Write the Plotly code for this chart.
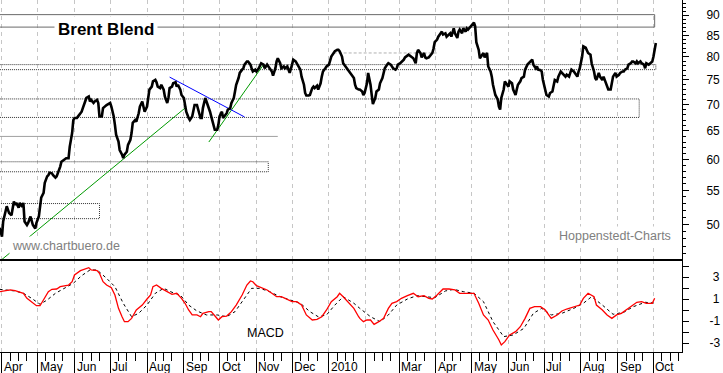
import plotly.graph_objects as go
import pandas as pd

START = pd.Timestamp("2009-04-01")

# ---------------- data (day offsets from 2009-04-01) ----------------
price_days = [
    -2, 0, 1, 3, 4, 6, 8, 10, 11, 12, 14, 15, 17, 18, 19, 21, 22, 24, 25, 26,
    28, 29, 31, 32, 33, 35, 36, 38, 39, 40, 42, 43, 45, 46, 47, 49, 50, 52, 53, 54,
    56, 57, 59, 60, 61, 63, 64, 66, 67, 68, 70, 71, 73, 74, 75, 77, 78, 80, 81, 82,
    84, 85, 88, 91, 92, 94, 95, 96, 98, 99, 101, 102, 103, 105, 106, 108, 109, 110, 112, 113,
    115, 116, 118, 119, 120, 122, 123, 124, 126, 127, 129, 130, 131, 133, 134, 136, 137, 139, 140, 141,
    143, 144, 146, 147, 148, 150, 151, 153, 154, 155, 157, 158, 160, 161, 162, 164, 165, 167, 168, 169,
    171, 172, 174, 175, 176, 178, 179, 181, 182, 183, 185, 186, 188, 189, 190, 192, 193, 195, 196, 197,
    199, 200, 202, 203, 204, 206, 207, 209, 210, 211, 213, 214, 216, 217, 218, 220, 221, 223, 224, 225,
    227, 228, 230, 231, 232, 234, 235, 237, 238, 240, 241, 242, 244, 245, 247, 248, 249, 251, 252, 254,
    255, 256, 258, 259, 261, 262, 263, 265, 266, 268, 269, 270, 272, 273, 275, 276, 277, 279, 280, 282,
    283, 284, 286, 287, 289, 290, 291, 293, 294, 296, 297, 298, 300, 301, 303, 304, 305, 307, 308, 310,
    311, 312, 314, 315, 317, 318, 320, 321, 322, 324, 325, 327, 328, 329, 331, 332, 333, 335, 338, 339,
    342, 345, 346, 348, 349, 350, 352, 353, 355, 356, 357, 359, 362, 363, 364, 366, 367, 369, 370, 371,
    373, 374, 376, 377, 378, 380, 381, 383, 384, 385, 387, 388, 390, 391, 392, 394, 395, 397, 398, 399,
    401, 402, 404, 405, 406, 408, 409, 411, 412, 413, 415, 416, 417, 418, 419, 420, 422, 423, 425, 426,
    427, 429, 430, 432, 433, 434, 436, 437, 439, 440, 442, 443, 444, 446, 447, 449, 450, 451, 453, 454,
    455, 457, 458, 460, 461, 463, 464, 465, 467, 468, 470, 471, 472, 474, 475, 477, 478, 479, 481, 482,
    484, 485, 486, 488, 489, 491, 492, 493, 495, 496, 498, 499, 500, 502, 503, 505, 506, 507, 509, 510,
    512, 513, 514, 516, 517, 519, 520, 522, 523, 524, 526, 527, 529, 530, 531, 533, 534, 535, 537, 538,
    540, 541, 542, 544, 545, 547, 548, 549, 550,
]
price_vals = [
    49.5, 48.3, 50.4, 52.1, 52.6, 51.6, 51.3, 53.3, 52.8, 53.1, 52.4, 53.1, 52.5, 53.1, 50.4, 49.9, 50.2, 51.1, 50.4, 49.9,
    49.4, 50.2, 51.1, 52.6, 53.9, 54.6, 56.2, 57.2, 57.4, 57.8, 57.7, 57.4, 57.0, 57.2, 57.7, 58.8, 59.6, 59.9, 59.9, 60.2,
    60.2, 62.2, 64.6, 67.0, 67.4, 67.4, 67.7, 68.3, 68.6, 69.3, 70.6, 71.3, 71.6, 70.6, 70.9, 70.3, 70.6, 70.9, 70.3, 67.7,
    67.7, 69.3, 69.9, 70.3, 69.6, 67.7, 66.1, 64.3, 63.1, 61.6, 60.8, 60.2, 60.8, 61.3, 62.5, 63.4, 64.6, 66.5, 67.0, 66.7,
    68.3, 69.6, 70.6, 69.6, 68.6, 69.6, 71.3, 73.0, 73.6, 74.7, 75.0, 74.5, 73.6, 73.3, 74.0, 73.0, 71.6, 70.3, 71.3, 73.3,
    73.6, 74.3, 74.5, 73.6, 74.0, 73.0, 71.9, 71.3, 69.9, 68.6, 67.4, 67.0, 67.7, 69.0, 69.9, 69.9, 69.0, 67.4, 67.4, 69.3,
    71.3, 70.6, 69.6, 68.6, 67.7, 66.1, 65.2, 65.2, 66.1, 67.7, 68.6, 67.4, 68.0, 68.3, 69.0, 69.3, 70.3, 71.3, 72.6, 74.0,
    75.4, 76.5, 77.2, 77.5, 78.3, 79.0, 79.0, 78.3, 77.5, 76.8, 77.2, 76.8, 77.5, 77.9, 78.6, 78.3, 77.5, 78.3, 77.9, 77.5,
    76.8, 75.9, 77.5, 79.0, 79.7, 78.6, 77.5, 77.9, 77.5, 77.9, 77.2, 76.5, 78.3, 79.4, 79.0, 78.6, 77.9, 77.2, 75.7, 74.0,
    72.3, 71.8, 71.8, 71.9, 73.3, 73.6, 73.3, 73.8, 73.0, 74.3, 75.7, 76.8, 77.5, 77.9, 78.3, 79.0, 80.1, 80.9, 81.3, 81.6,
    81.6, 81.3, 80.1, 78.6, 77.9, 77.5, 77.2, 76.5, 76.1, 75.4, 74.0, 73.3, 73.0, 73.0, 72.6, 71.9, 72.3, 74.3, 76.5, 74.0,
    71.9, 70.1, 71.3, 72.6, 73.0, 74.3, 75.4, 76.5, 77.5, 78.3, 78.6, 78.3, 77.9, 77.5, 77.2, 77.5, 78.3, 78.6, 79.4, 79.9,
    80.5, 79.9, 79.7, 78.6, 80.9, 81.6, 80.9, 79.9, 80.9, 79.9, 79.7, 79.9, 80.9, 81.9, 83.4, 84.0, 84.7, 85.5, 85.9, 85.2,
    85.5, 84.7, 85.2, 85.5, 84.7, 86.7, 85.5, 84.4, 85.9, 86.4, 85.5, 86.7, 85.9, 86.7, 86.4, 87.2, 87.6, 88.1, 87.2, 83.4,
    81.6, 79.7, 80.5, 80.9, 79.9, 80.9, 77.9, 76.8, 75.7, 74.0, 71.9, 71.3, 71.0, 69.6, 69.0, 71.3, 73.0, 74.7, 74.0, 73.6,
    74.7, 74.3, 73.0, 71.9, 73.0, 74.0, 74.7, 75.4, 75.7, 77.2, 78.3, 78.6, 79.0, 79.4, 78.3, 77.5, 77.9, 77.2, 77.1, 76.8,
    75.0, 73.0, 71.9, 71.6, 72.3, 72.6, 74.0, 75.0, 74.7, 75.7, 76.8, 76.5, 76.1, 75.7, 76.1, 75.7, 76.5, 77.2, 76.8, 76.5,
    75.7, 76.8, 77.5, 80.1, 82.4, 82.1, 81.3, 80.9, 80.5, 78.6, 76.8, 75.4, 75.0, 76.5, 75.7, 75.0, 75.7, 75.0, 74.0, 73.0,
    73.0, 74.7, 75.7, 76.5, 75.7, 76.1, 76.5, 76.8, 76.8, 77.2, 77.5, 78.3, 78.6, 79.0, 79.0, 78.6, 79.0, 78.6, 79.0, 78.6,
    78.3, 77.5, 78.6, 78.3, 78.6, 79.0, 80.1, 81.9, 83.2,
]

macd_days = [
    -2, 3, 7, 11, 15, 18, 21, 25, 29, 32, 35, 39, 42, 46, 49, 53, 56, 59, 61, 66,
    70, 73, 75, 80, 82, 85, 88, 92, 95, 98, 101, 103, 106, 109, 113, 118, 122, 125, 127, 130,
    134, 139, 143, 147, 151, 154, 157, 160, 164, 167, 169, 174, 176, 179, 182, 185, 189, 193, 197, 202,
    206, 209, 211, 214, 219, 223, 227, 231, 235, 240, 244, 248, 252, 256, 261, 265, 269, 273, 277, 282,
    284, 287, 291, 296, 300, 301, 304, 307, 310, 313, 317, 321, 325, 328, 332, 336, 341, 346, 350, 355,
    359, 362, 366, 371, 376, 381, 385, 391, 397, 401, 405, 409, 413, 418, 420, 423, 427, 432, 436, 440,
    444, 448, 453, 457, 460, 462, 467, 471, 475, 481, 486, 489, 493, 498, 500, 505, 509, 513, 517, 521,
    526, 530, 534, 538, 542, 547, 549,
]
macd_vals = [
    1.66, 1.73, 1.82, 1.76, 1.66, 1.52, 1.06, 0.76, 0.39, 0.39, 0.91, 1.67, 1.88, 1.91, 2.12, 2.21, 2.27, 2.57, 3.18, 3.58,
    3.73, 3.85, 3.64, 3.58, 3.33, 2.57, 2.27, 2.03, 1.36, 0.15, -0.61, -1.06, -1.06, -0.76, 0.0, 0.45, 1.0, 1.36, 2.12, 2.27,
    1.97, 1.67, 1.43, 1.52, 1.06, 0.61, 0.0, -0.45, -0.45, -0.61, -0.3, -0.15, -0.15, -0.52, -0.91, -0.61, -0.55, -0.15, 0.45, 1.36,
    2.27, 2.64, 2.57, 2.21, 1.97, 1.82, 1.52, 1.21, 1.21, 1.0, 0.76, 0.76, 0.45, -0.45, -0.91, -0.85, -0.61, 0.0, 0.76, 1.21,
    1.52, 1.21, 0.76, 0.15, -0.61, -0.76, -1.06, -0.91, -0.91, -1.3, -1.06, -0.76, 0.15, 0.61, 0.76, 1.06, 1.3, 1.52, 1.21, 1.3,
    1.06, 1.0, 1.36, 1.91, 1.91, 1.82, 1.52, 1.52, 1.52, 0.61, -0.45, -0.91, -1.82, -2.73, -3.18, -2.88, -2.27, -1.97, -1.52, -0.76,
    0.15, 0.3, 0.3, 0.0, -0.45, -0.76, -0.45, -0.09, 0.09, 0.3, 0.45, 1.06, 1.52, 1.21, 0.45, 0.0, -0.45, -0.76, -0.45, -0.3,
    0.09, 0.45, 0.7, 0.76, 0.61, 0.61, 1.06,
]

signal_days = [
    -2, 4, 11, 18, 25, 32, 38, 45, 53, 60, 67, 74, 80, 88, 95, 102, 109, 115, 122, 129,
    136, 143, 150, 157, 164, 172, 181, 189, 196, 203, 210, 217, 225, 234, 242, 251, 259, 266, 273, 280,
    287, 296, 301, 310, 318, 325, 332, 341, 349, 357, 364, 373, 380, 388, 397, 405, 413, 422, 430, 439,
    447, 454, 462, 471, 481, 489, 496, 505, 514, 523, 531, 541, 548,
]
signal_vals = [
    1.88, 1.82, 1.73, 1.52, 1.06, 0.52, 0.91, 1.52, 1.97, 2.43, 3.12, 3.64, 3.64, 2.88, 2.12, 0.61, -0.61, -0.3, 0.45, 1.52,
    1.97, 1.61, 1.36, 0.45, -0.09, -0.45, -0.45, -0.61, -0.15, 0.91, 1.97, 1.97, 1.67, 1.21, 0.91, 0.61, -0.15, -0.61, -0.45, 0.45,
    1.21, 0.61, 0.15, -0.61, -1.06, -0.45, 0.45, 1.0, 1.3, 1.21, 1.12, 1.73, 1.88, 1.67, 1.52, 0.76, -1.06, -2.42, -2.27, -1.67,
    -0.3, 0.15, -0.45, -0.3, 0.15, 0.61, 1.21, 0.45, -0.39, -0.21, 0.3, 0.7, 0.64,
]

# support / resistance zones: low, high, end day
zone_low = [87.0, 77.2, 67.5, 57.95, 50.8]
zone_high = [90.1, 78.3, 71.1, 59.6, 53.0]
zone_end = [549, 550, 536, 224, 82]
zone_solid = [True, False, False, False, False]

# single horizontal levels: value, start day, end day
level_vals = [64.0, 80.9]
level_start = [-10, 279]
level_end = [232, 367]

# trend lines: (start/end day, start/end value)
green1 = ([0, 155], [45.3, 69.5])
green2 = ([174, 220], [63.0, 78.3])
blue1 = ([141, 204], [75.6, 67.6])

month_ticks = ["2009-04-01", "2009-05-01", "2009-06-01", "2009-07-01", "2009-08-01",
               "2009-09-01", "2009-10-01", "2009-11-01", "2009-12-01", "2010-01-01",
               "2010-02-01", "2010-03-01", "2010-04-01", "2010-05-01", "2010-06-01",
               "2010-07-01", "2010-08-01", "2010-09-01", "2010-10-01"]
month_labels = ["Apr", "May", "Jun", "Jul", "Aug", "Sep", "Oct", "Nov", "Dec", "2010",
                "", "Mar", "Apr", "May", "Jun", "Jul", "Aug", "Sep", "Oct"]

price_ticks = [50, 55, 60, 65, 70, 75, 80, 85, 90]
macd_tickvals = [-3, -2, -1, 0, 1, 2, 3, 4]
macd_ticktext = ["-3", "", "-1", "", "\u00a01", "", "\u00a03", ""]


def to_dates(days):
    return START + pd.to_timedelta(days, unit="D")


X_RANGE = ["2009-03-30 08:00", "2010-10-25"]
SPLIT = 92 / 352
FONT = "Liberation Sans, Arial, sans-serif"

fig = go.Figure()

# zones
for lo, hi, end, solid in zip(zone_low, zone_high, zone_end, zone_solid):
    fig.add_trace(go.Scatter(
        x=to_dates([-10, end, end, -10]), y=[lo, lo, hi, hi],
        mode="lines", hoverinfo="skip",
        line=dict(color="#6a6a6a" if solid else "#333333", width=1,
                  dash="solid" if solid else "1px,1px"),
        xaxis="x", yaxis="y"))

# levels
for val, s, e, col, dash in zip(level_vals, level_start, level_end,
                                ["#a0a0a0", "#b0b0b0"], ["solid", "3px,2px"]):
    fig.add_trace(go.Scatter(x=to_dates([s, e]), y=[val, val], mode="lines",
                             hoverinfo="skip", line=dict(color=col, width=1, dash=dash),
                             xaxis="x", yaxis="y"))

# trend lines
for (dd, vv), col in zip([green1, green2, blue1], ["#009a00", "#009a00", "#0000ff"]):
    fig.add_trace(go.Scatter(x=to_dates(dd), y=vv, mode="lines", hoverinfo="skip",
                             line=dict(color=col, width=1), xaxis="x", yaxis="y"))

# price
fig.add_trace(go.Scatter(x=to_dates(price_days), y=price_vals, mode="lines",
                         line=dict(color="black", width=2.6), xaxis="x", yaxis="y"))

# MACD
fig.add_trace(go.Scatter(x=to_dates(signal_days), y=signal_vals, mode="lines",
                         line=dict(color="black", width=1, dash="3px,3px"),
                         xaxis="x", yaxis="y2"))
fig.add_trace(go.Scatter(x=to_dates(macd_days), y=macd_vals, mode="lines",
                         line=dict(color="#ff0000", width=1.3), xaxis="x", yaxis="y2"))

# minor x ticks (8th, 15th, 22nd of each month)
minor_x = []
for m in pd.date_range("2009-03-01", "2010-10-01", freq="MS"):
    for dday in (7, 14, 21):
        minor_x.append((m + pd.Timedelta(days=dday)).strftime("%Y-%m-%d"))

minor_price = [v for v in range(46, 94) if v % 5 != 0]

annotations = []
for t, lab in zip(month_ticks, month_labels):
    if lab:
        annotations.append(dict(x=t, xref="x", y=-14.5 / 352, yref="paper", text=lab,
                                showarrow=False, xanchor="left", yanchor="middle", xshift=1,
                                borderpad=0, font=dict(family=FONT, size=12, color="black")))
annotations += [
    dict(x=54 / 682, y=(352 - 29) / 352, xref="paper", yref="paper", text="<b>Brent Blend</b>",
         showarrow=False, xanchor="left", yanchor="middle", bgcolor="white", borderpad=3,
         font=dict(family=FONT, size=17, color="black")),
    dict(x=9 / 682, y=(352 - 246) / 352, xref="paper", yref="paper", text="www.chartbuero.de",
         showarrow=False, xanchor="left", yanchor="middle", bgcolor="white", borderpad=2,
         font=dict(family=FONT, size=12.5, color="#808080")),
    dict(x=674 / 682, y=(352 - 236) / 352, xref="paper", yref="paper", text="Hoppenstedt-Charts",
         showarrow=False, xanchor="right", yanchor="middle", bgcolor="white", borderpad=2,
         font=dict(family=FONT, size=12.5, color="#808080")),
    dict(x=246 / 682, y=(352 - 333) / 352, xref="paper", yref="paper", text="MACD",
         showarrow=False, xanchor="left", yanchor="middle", borderpad=0,
         font=dict(family=FONT, size=12.5, color="black")),
]

shapes = [dict(type="line", xref="paper", yref="paper", x0=0, x1=1, y0=SPLIT, y1=SPLIT,
               line=dict(color="black", width=2))]

fig.update_layout(
    width=723, height=373,
    margin=dict(l=0, r=41, t=0, b=21),
    paper_bgcolor="white", plot_bgcolor="white",
    showlegend=False,
    annotations=annotations,
    shapes=shapes,
    xaxis=dict(
        type="date", range=X_RANGE, anchor="y2",
        showline=True, linecolor="black", linewidth=1,
        tickmode="array", tickvals=month_ticks, showticklabels=False,
        ticks="outside", ticklen=21, tickcolor="black", tickwidth=1,
        showgrid=True, gridcolor="#c6c6c6", griddash="4px,4px", gridwidth=1,
        minor=dict(tickmode="array", tickvals=minor_x, ticks="outside", ticklen=8,
                   tickcolor="black", tickwidth=1, showgrid=False),
        zeroline=False, fixedrange=True,
    ),
    yaxis=dict(
        type="log", domain=[SPLIT, 1], range=[1.65543, 1.97257],
        side="right", anchor="x", showline=True, linecolor="black", linewidth=1,
        tickmode="array", tickvals=price_ticks, ticktext=[str(v) for v in price_ticks],
        ticks="outside", ticklen=6, tickcolor="black", tickwidth=1,
        minor=dict(tickmode="array", tickvals=minor_price, ticks="outside", ticklen=3,
                   tickcolor="black", tickwidth=1, showgrid=False),
        showgrid=False, zeroline=False,
        tickfont=dict(family=FONT, size=12, color="black"),
        ticklabelstandoff=15,
    ),
    yaxis2=dict(
        domain=[0, SPLIT], range=[-3.818, 4.545],
        side="right", anchor="x", showline=True, linecolor="black", linewidth=1,
        tickmode="array", tickvals=macd_tickvals, ticktext=macd_ticktext,
        ticks="outside", ticklen=6, tickcolor="black", tickwidth=1,
        showgrid=False, zeroline=False,
        tickfont=dict(family=FONT, size=12, color="black"),
        ticklabelstandoff=18,
    ),
)

fig.write_html("out.html")
